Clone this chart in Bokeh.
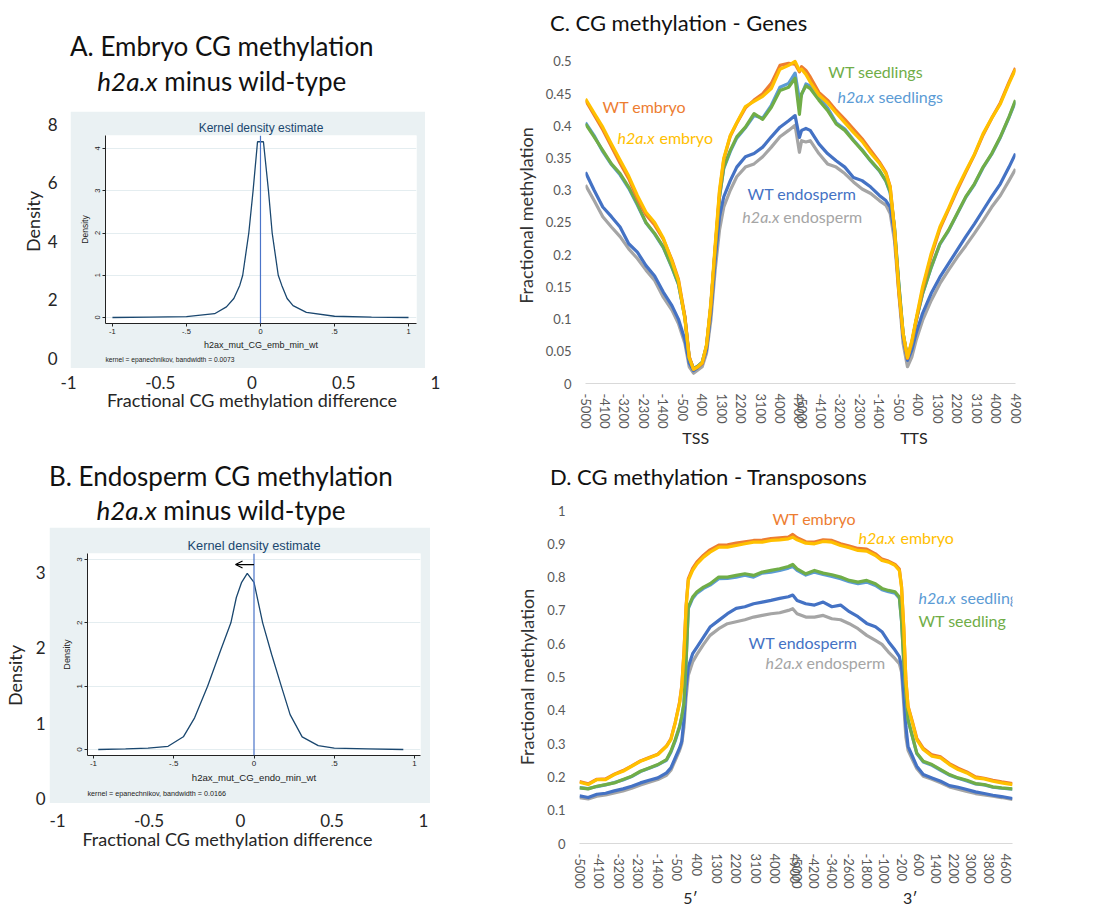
from bokeh.plotting import figure
from bokeh.layouts import row, column
from bokeh.models import Div, FixedTicker, Span, Arrow, OpenHead, Label, LinearAxis, Range1d, Title
from bokeh.embed import file_html
from bokeh.resources import INLINE

# ---------------- data: kernel density estimates (panels A, B) ----------------
KDE_EMB_X = [-1.0, -0.75, -0.5, -0.31, -0.23, -0.18, -0.14, -0.12, -0.079, -0.05, -0.02,
             0.02, 0.054, 0.079, 0.12, 0.144, 0.18, 0.22, 0.31, 0.50, 0.75, 1.0]
KDE_EMB_Y = [0.0, 0.01, 0.02, 0.09, 0.25, 0.45, 0.76, 1.00, 2.00, 3.00, 4.16,
             4.16, 3.00, 2.00, 1.00, 0.76, 0.45, 0.28, 0.12, 0.03, 0.01, 0.0]
KDE_END_X = [-0.97, -0.80, -0.66, -0.535, -0.44, -0.37, -0.289, -0.21, -0.144, -0.11, -0.077,
             -0.042, 0.0, 0.054, 0.11, 0.17, 0.225, 0.30, 0.40, 0.50, 0.71, 0.93]
KDE_END_Y = [0.0, 0.01, 0.02, 0.05, 0.20, 0.50, 1.00, 1.55, 2.00, 2.40, 2.64,
             2.78, 2.64, 2.00, 1.50, 1.00, 0.55, 0.20, 0.06, 0.02, 0.01, 0.0]
STATA_X_TICKS = [-1, -0.5, 0, 0.5, 1]
STATA_X_LABELS = ["-1", "-.5", "0", ".5", "1"]
OUTER_X_TICKS = [-1, -0.5, 0, 0.5, 1]
OUTER_X_LABELS = ["-1", "-0.5", "0", "0.5", "1"]
OUTER_A_Y_TICKS = [0, 2, 4, 6, 8]
OUTER_B_Y_TICKS = [0, 1, 2, 3]

# ---------------- data: CG methylation over genes (panel C) ----------------
GENE_POS = [0, 4, 8, 12, 16, 20, 24, 28, 32, 36,
            40, 43, 46, 48, 50, 52, 54, 56, 58, 60,
            62, 64, 67, 70, 74, 78, 82, 86, 90, 94,
            97, 99, 100, 102, 104, 108, 112, 116, 120, 124,
            128, 132, 136, 139, 141, 143, 145, 147, 149, 151,
            153, 156, 160, 164, 168, 172, 176, 180, 184, 188,
            192, 196, 199]
GENE_WT_EMBRYO = [0.440, 0.417, 0.394, 0.368, 0.342, 0.318, 0.287, 0.262, 0.246, 0.224,
                  0.192, 0.162, 0.104, 0.042, 0.022, 0.026, 0.031, 0.058, 0.120, 0.210,
                  0.296, 0.348, 0.384, 0.404, 0.428, 0.440, 0.450, 0.466, 0.494, 0.497,
                  0.496, 0.484, 0.492, 0.486, 0.476, 0.452, 0.440, 0.424, 0.410, 0.395,
                  0.380, 0.362, 0.344, 0.328, 0.306, 0.238, 0.142, 0.076, 0.039, 0.064,
                  0.097, 0.146, 0.198, 0.240, 0.270, 0.300, 0.328, 0.355, 0.386, 0.412,
                  0.436, 0.468, 0.490]
GENE_H2AX_EMBRYO = [0.442, 0.420, 0.398, 0.372, 0.347, 0.322, 0.292, 0.266, 0.250, 0.226,
                    0.190, 0.160, 0.100, 0.040, 0.022, 0.026, 0.032, 0.060, 0.125, 0.215,
                    0.300, 0.350, 0.385, 0.405, 0.430, 0.438, 0.446, 0.458, 0.488, 0.494,
                    0.500, 0.486, 0.488, 0.480, 0.468, 0.448, 0.436, 0.420, 0.405, 0.390,
                    0.376, 0.358, 0.342, 0.326, 0.305, 0.240, 0.145, 0.078, 0.040, 0.066,
                    0.100, 0.150, 0.202, 0.243, 0.272, 0.303, 0.330, 0.356, 0.388, 0.412,
                    0.434, 0.466, 0.488]
GENE_WT_SEEDLING = [0.403, 0.383, 0.362, 0.341, 0.326, 0.305, 0.279, 0.250, 0.233, 0.212,
                    0.181, 0.155, 0.103, 0.040, 0.023, 0.027, 0.033, 0.058, 0.120, 0.207,
                    0.290, 0.336, 0.362, 0.383, 0.398, 0.419, 0.410, 0.429, 0.455, 0.460,
                    0.474, 0.418, 0.450, 0.462, 0.458, 0.440, 0.424, 0.403, 0.393, 0.377,
                    0.362, 0.346, 0.331, 0.315, 0.298, 0.243, 0.155, 0.078, 0.041, 0.062,
                    0.098, 0.140, 0.181, 0.217, 0.238, 0.264, 0.290, 0.310, 0.336, 0.357,
                    0.383, 0.414, 0.440]
GENE_H2AX_SEEDLING = [0.405, 0.385, 0.360, 0.340, 0.324, 0.303, 0.277, 0.249, 0.232, 0.211,
                      0.180, 0.154, 0.102, 0.040, 0.023, 0.027, 0.033, 0.058, 0.121, 0.208,
                      0.289, 0.334, 0.360, 0.381, 0.397, 0.416, 0.412, 0.432, 0.460, 0.466,
                      0.482, 0.440, 0.448, 0.465, 0.462, 0.444, 0.428, 0.405, 0.395, 0.378,
                      0.363, 0.345, 0.330, 0.314, 0.296, 0.241, 0.153, 0.077, 0.040, 0.061,
                      0.097, 0.139, 0.180, 0.216, 0.237, 0.263, 0.289, 0.309, 0.335, 0.356,
                      0.382, 0.413, 0.438]
GENE_WT_ENDO = [0.328, 0.300, 0.274, 0.259, 0.243, 0.217, 0.204, 0.183, 0.167, 0.142,
                0.121, 0.100, 0.068, 0.032, 0.020, 0.025, 0.031, 0.052, 0.109, 0.191,
                0.259, 0.290, 0.315, 0.336, 0.352, 0.357, 0.367, 0.383, 0.398, 0.408,
                0.416, 0.382, 0.393, 0.396, 0.393, 0.372, 0.357, 0.346, 0.336, 0.320,
                0.315, 0.305, 0.292, 0.284, 0.274, 0.233, 0.150, 0.072, 0.036, 0.052,
                0.078, 0.109, 0.140, 0.165, 0.186, 0.207, 0.228, 0.248, 0.269, 0.290,
                0.310, 0.336, 0.357]
GENE_H2AX_ENDO = [0.308, 0.284, 0.259, 0.243, 0.228, 0.209, 0.194, 0.176, 0.160, 0.134,
                  0.114, 0.093, 0.062, 0.026, 0.016, 0.021, 0.026, 0.047, 0.098, 0.176,
                  0.238, 0.274, 0.300, 0.321, 0.336, 0.341, 0.352, 0.367, 0.383, 0.393,
                  0.401, 0.359, 0.377, 0.375, 0.377, 0.357, 0.341, 0.336, 0.326, 0.313,
                  0.302, 0.295, 0.284, 0.277, 0.264, 0.222, 0.140, 0.062, 0.026, 0.041,
                  0.067, 0.098, 0.129, 0.155, 0.176, 0.196, 0.214, 0.233, 0.253, 0.274,
                  0.292, 0.315, 0.333]
GENE_TICK_POS = [0, 9, 18, 27, 36, 45, 54, 63, 72, 81, 90, 99,
                 100, 109, 118, 127, 136, 145, 154, 163, 172, 181, 190, 199]
GENE_TICK_LABELS = ["-5000", "-4100", "-3200", "-2300", "-1400", "-500", "400", "1300", "2200", "3100", "4000", "4900",
                    "-5000", "-4100", "-3200", "-2300", "-1400", "-500", "400", "1300", "2200", "3100", "4000", "4900"]
GENE_Y_TICKS = [0, 0.05, 0.1, 0.15, 0.2, 0.25, 0.3, 0.35, 0.4, 0.45, 0.5]
GENE_Y_LABELS = ["0", "0.05", "0.1", "0.15", "0.2", "0.25", "0.3", "0.35", "0.4", "0.45", "0.5"]
GENE_MARK_POS = [51, 152]
GENE_MARK_LABELS = ["TSS", "TTS"]

# ---------------- data: CG methylation over transposons (panel D) ----------------
TE_POS = [0, 4, 8, 12, 16, 20, 24, 28, 32, 36,
          40, 42, 44, 46, 47, 48, 49, 50, 52, 54,
          57, 60, 64, 68, 72, 76, 80, 84, 88, 92,
          96, 98, 100, 104, 108, 112, 116, 120, 124, 128,
          132, 136, 139, 142, 145, 147, 148, 149, 150, 151,
          153, 155, 158, 162, 166, 170, 174, 178, 182, 186,
          190, 194, 199]
TE_WT_EMBRYO = [0.186, 0.179, 0.193, 0.194, 0.208, 0.219, 0.233, 0.248, 0.258, 0.268,
                0.293, 0.314, 0.364, 0.425, 0.474, 0.575, 0.715, 0.795, 0.826, 0.846,
                0.866, 0.882, 0.896, 0.897, 0.902, 0.906, 0.910, 0.911, 0.916, 0.918,
                0.920, 0.928, 0.918, 0.906, 0.905, 0.912, 0.910, 0.900, 0.893, 0.886,
                0.884, 0.870, 0.854, 0.848, 0.838, 0.824, 0.772, 0.652, 0.492, 0.412,
                0.366, 0.316, 0.286, 0.266, 0.260, 0.240, 0.226, 0.215, 0.200, 0.196,
                0.190, 0.185, 0.180]
TE_H2AX_EMBRYO = [0.184, 0.177, 0.192, 0.192, 0.207, 0.217, 0.232, 0.247, 0.257, 0.267,
                  0.292, 0.312, 0.362, 0.422, 0.470, 0.570, 0.710, 0.790, 0.820, 0.840,
                  0.860, 0.875, 0.890, 0.890, 0.895, 0.900, 0.905, 0.905, 0.910, 0.912,
                  0.915, 0.920, 0.912, 0.902, 0.900, 0.907, 0.905, 0.895, 0.888, 0.880,
                  0.878, 0.865, 0.850, 0.845, 0.835, 0.820, 0.770, 0.650, 0.490, 0.410,
                  0.362, 0.312, 0.282, 0.262, 0.257, 0.237, 0.222, 0.212, 0.197, 0.194,
                  0.187, 0.182, 0.177]
TE_WT_SEEDLING = [0.167, 0.164, 0.172, 0.177, 0.182, 0.192, 0.202, 0.217, 0.227, 0.237,
                  0.252, 0.277, 0.312, 0.352, 0.382, 0.422, 0.550, 0.710, 0.740, 0.756,
                  0.770, 0.780, 0.800, 0.800, 0.805, 0.810, 0.805, 0.815, 0.820, 0.825,
                  0.832, 0.838, 0.825, 0.810, 0.820, 0.812, 0.807, 0.800, 0.790, 0.785,
                  0.790, 0.780, 0.766, 0.760, 0.756, 0.740, 0.670, 0.550, 0.450, 0.372,
                  0.322, 0.272, 0.247, 0.237, 0.222, 0.207, 0.197, 0.190, 0.180, 0.177,
                  0.170, 0.167, 0.164]
TE_H2AX_SEEDLING = [0.168, 0.165, 0.171, 0.176, 0.183, 0.191, 0.201, 0.216, 0.226, 0.236,
                    0.250, 0.274, 0.308, 0.348, 0.378, 0.418, 0.545, 0.705, 0.736, 0.752,
                    0.766, 0.776, 0.795, 0.796, 0.800, 0.806, 0.800, 0.812, 0.815, 0.820,
                    0.827, 0.832, 0.820, 0.806, 0.815, 0.808, 0.802, 0.795, 0.786, 0.780,
                    0.785, 0.775, 0.762, 0.756, 0.752, 0.737, 0.668, 0.548, 0.448, 0.370,
                    0.320, 0.270, 0.245, 0.235, 0.220, 0.205, 0.196, 0.188, 0.179, 0.176,
                    0.169, 0.166, 0.163]
TE_WT_ENDO = [0.143, 0.138, 0.148, 0.151, 0.158, 0.164, 0.172, 0.182, 0.190, 0.197,
              0.212, 0.227, 0.257, 0.287, 0.307, 0.372, 0.470, 0.530, 0.570, 0.590,
              0.620, 0.650, 0.670, 0.690, 0.706, 0.711, 0.720, 0.725, 0.730, 0.736,
              0.741, 0.746, 0.730, 0.720, 0.716, 0.725, 0.711, 0.716, 0.696, 0.681,
              0.661, 0.651, 0.636, 0.606, 0.581, 0.561, 0.531, 0.450, 0.352, 0.292,
              0.262, 0.232, 0.207, 0.197, 0.187, 0.174, 0.169, 0.162, 0.155, 0.150,
              0.145, 0.141, 0.135]
TE_H2AX_ENDO = [0.138, 0.134, 0.142, 0.146, 0.152, 0.158, 0.166, 0.176, 0.184, 0.192,
                0.205, 0.220, 0.250, 0.280, 0.300, 0.350, 0.440, 0.505, 0.545, 0.568,
                0.598, 0.625, 0.645, 0.660, 0.666, 0.672, 0.680, 0.685, 0.690, 0.693,
                0.700, 0.705, 0.690, 0.680, 0.680, 0.685, 0.675, 0.672, 0.660, 0.645,
                0.625, 0.610, 0.598, 0.575, 0.555, 0.540, 0.515, 0.420, 0.320, 0.280,
                0.252, 0.225, 0.202, 0.193, 0.182, 0.170, 0.163, 0.156, 0.150, 0.146,
                0.142, 0.138, 0.132]
TE_TICK_POS = [0, 9, 18, 27, 36, 45, 54, 63, 72, 81, 90, 99,
               100, 108, 116, 124, 132, 140, 148, 156, 164, 172, 180, 188, 196]
TE_TICK_LABELS = ["-5000", "-4100", "-3200", "-2300", "-1400", "-500", "400", "1300", "2200", "3100", "4000", "4900",
                  "-5000", "-4200", "-3400", "-2600", "-1800", "-1000", "-200", "600", "1400", "2200", "3000", "3800", "4600"]
TE_Y_TICKS = [0, 0.1, 0.2, 0.3, 0.4, 0.5, 0.6, 0.7, 0.8, 0.9, 1.0]
TE_Y_LABELS = ["0", "0.1", "0.2", "0.3", "0.4", "0.5", "0.6", "0.7", "0.8", "0.9", "1"]
TE_MARK_POS = [51, 152]
TE_MARK_LABELS = ["5\u2032", "3\u2032"]

for arr in (GENE_WT_EMBRYO, GENE_H2AX_EMBRYO, GENE_WT_SEEDLING, GENE_H2AX_SEEDLING, GENE_WT_ENDO, GENE_H2AX_ENDO):
    assert len(arr) == len(GENE_POS)
for arr in (TE_WT_EMBRYO, TE_H2AX_EMBRYO, TE_WT_SEEDLING, TE_H2AX_SEEDLING, TE_WT_ENDO, TE_H2AX_ENDO):
    assert len(arr) == len(TE_POS)

# ---------------- styles ----------------
FONT = "Lato"
SFONT = "Liberation Sans"
STATA_BG = "#EAF1F3"
STATA_NAVY = "#1a476f"
C_WT_EMB = "#ED7D31"
C_MU_EMB = "#FFC000"
C_WT_SEED = "#70AD47"
C_MU_SEED = "#5B9BD5"
C_WT_ENDO = "#4472C4"
C_MU_ENDO = "#A5A5A5"
TXT = "#262626"


def base_fig(w, h, xr, yr, bl, br, bt, bb, **kw):
    p = figure(width=w, height=h, x_range=Range1d(*xr), y_range=Range1d(*yr),
               output_backend="svg", toolbar_location=None,
               min_border_left=bl, min_border_right=br, min_border_top=bt, min_border_bottom=bb, **kw)
    p.outline_line_color = None
    return p


def title_div(lines, w, h, fs, line_h, pad_top, align="center", pad_left=0):
    html = ('<div style="font-family:Lato, sans-serif; font-size:%dpx; line-height:%dpx; '
            'padding-top:%dpx; padding-left:%dpx; text-align:%s; white-space:nowrap; color:#111;">%s</div>'
            % (fs, line_h, pad_top, pad_left, align, "<br>".join(lines)))
    return Div(text=html, width=w, height=h, margin=0)


def outer_y(w, h, bl, bt, bb, ymax, ticks, standoff, lab_standoff):
    p = base_fig(w, h, (0, 1), (0, ymax), bl, 0, bt, bb, x_axis_location=None)
    p.grid.visible = False
    p.background_fill_alpha = 0
    p.border_fill_alpha = 0
    ya = p.yaxis[0]
    ya.ticker = FixedTicker(ticks=ticks)
    ya.axis_line_color = None
    ya.major_tick_line_color = None
    ya.minor_tick_line_color = None
    ya.major_tick_out = 0
    ya.major_label_standoff = standoff
    ya.major_label_text_font = FONT
    ya.major_label_text_font_size = "17px"
    ya.major_label_text_color = TXT
    ya.axis_label = "Density"
    ya.axis_label_standoff = lab_standoff
    ya.axis_label_text_font = FONT
    ya.axis_label_text_font_size = "18px"
    ya.axis_label_text_font_style = "normal"
    ya.axis_label_text_color = TXT
    return p


def outer_x(w, h, bl, fw, xr, standoff, lab_standoff):
    p = base_fig(w, h, xr, (0, 1), bl, w - bl - fw, 0, h - 2, y_axis_location=None)
    p.grid.visible = False
    xa = p.xaxis[0]
    xa.ticker = FixedTicker(ticks=OUTER_X_TICKS)
    xa.major_label_overrides = dict(zip(OUTER_X_TICKS, OUTER_X_LABELS))
    xa.axis_line_color = None
    xa.major_tick_line_color = None
    xa.minor_tick_line_color = None
    xa.major_tick_out = 0
    xa.major_label_standoff = standoff
    xa.major_label_text_font = FONT
    xa.major_label_text_font_size = "17px"
    xa.major_label_text_color = TXT
    xa.axis_label = "Fractional CG methylation difference"
    xa.axis_label_standoff = lab_standoff
    xa.axis_label_text_font = FONT
    xa.axis_label_text_font_size = "18px"
    xa.axis_label_text_font_style = "normal"
    xa.axis_label_text_color = TXT
    return p


def stata(xs, ys, w, h, bl, br, bt, bb, xr, yr, yticks, xlabel, note, k, arrow=False):
    p = base_fig(w, h, xr, yr, bl, br, bt, bb)
    p.border_fill_color = STATA_BG
    p.background_fill_color = "white"
    p.title.text = "Kernel density estimate"
    p.title.align = "center"
    p.title.text_font = SFONT
    p.title.text_font_size = "%.1fpx" % (12 * k)
    p.title.text_font_style = "normal"
    p.title.text_color = STATA_NAVY
    p.title.standoff = 1
    p.xgrid.visible = False
    p.ygrid.ticker = FixedTicker(ticks=yticks)
    p.ygrid.grid_line_color = "#E4EDF0"
    xa = p.xaxis[0]
    xa.ticker = FixedTicker(ticks=STATA_X_TICKS)
    xa.major_label_overrides = dict(zip(STATA_X_TICKS, STATA_X_LABELS))
    ya = p.yaxis[0]
    ya.ticker = FixedTicker(ticks=yticks)
    ya.major_label_orientation = "vertical"
    for ax in (xa, ya):
        ax.axis_line_color = "#222222"
        ax.major_tick_line_color = "#222222"
        ax.minor_tick_line_color = None
        ax.major_tick_out = 3
        ax.major_tick_in = 0
        ax.major_label_standoff = 2
        ax.major_label_text_font = SFONT
        ax.major_label_text_font_size = "%.1fpx" % (7.5 * k)
        ax.major_label_text_color = "#222222"
        ax.axis_label_text_font = SFONT
        ax.axis_label_text_font_style = "normal"
        ax.axis_label_text_color = "#222222"
        ax.axis_label_standoff = 3
    ya.axis_label = "Density"
    ya.axis_label_text_font_size = "%.1fpx" % (8.5 * k)
    xa.axis_label = xlabel
    xa.axis_label_text_font_size = "%.1fpx" % (9 * k)
    p.add_layout(Span(location=0, dimension="height", line_color="#4a74c9", line_width=1.2))
    p.line(xs, ys, line_color=STATA_NAVY, line_width=1.3)
    p.add_layout(Title(text=note, align="left", text_font=SFONT, text_font_size="%.1fpx" % (6.7 * k),
                       text_font_style="normal", text_color="#222222", standoff=2), "below")
    if arrow:
        p.add_layout(Arrow(x_start=0, y_start=2.92, x_end=-0.115, y_end=2.92,
                           line_color="black", line_width=1.2,
                           end=OpenHead(size=7, line_color="black", line_width=1.2)))
    return p


def excel(w, h, bl, br, bt, bb, yr, yticks, ylabels, xticks, xlabels, mpos, mlabels, x_standoff, m_standoff):
    p = base_fig(w, h, (0, 199), yr, bl, br, bt, bb)
    p.grid.visible = False
    xa = p.xaxis[0]
    xa.ticker = FixedTicker(ticks=xticks)
    xa.major_label_overrides = dict(zip(xticks, xlabels))
    xa.major_label_orientation = "vertical"
    xa.axis_line_color = "#D9D9D9"
    xa.axis_line_width = 1.2
    xa.major_tick_line_color = None
    xa.minor_tick_line_color = None
    xa.major_tick_out = 0
    xa.major_label_standoff = x_standoff
    xa.major_label_text_font = FONT
    xa.major_label_text_font_size = "13px"
    xa.major_label_text_color = "#595959"
    sec = LinearAxis(ticker=FixedTicker(ticks=mpos), major_label_overrides=dict(zip(mpos, mlabels)),
                     axis_line_color=None, major_tick_line_color=None, minor_tick_line_color=None,
                     major_tick_out=0, major_label_standoff=m_standoff, major_label_text_font=FONT,
                     major_label_text_font_size="16px", major_label_text_color=TXT)
    p.add_layout(sec, "below")
    ya = p.yaxis[0]
    ya.ticker = FixedTicker(ticks=yticks)
    ya.major_label_overrides = dict(zip(yticks, ylabels))
    ya.axis_line_color = None
    ya.major_tick_line_color = None
    ya.minor_tick_line_color = None
    ya.major_tick_out = 0
    ya.major_label_standoff = 14
    ya.major_label_text_font = FONT
    ya.major_label_text_font_size = "13px"
    ya.major_label_text_color = "#595959"
    ya.axis_label = "Fractional methylation"
    ya.axis_label_standoff = 6
    ya.axis_label_text_font = FONT
    ya.axis_label_text_font_size = "18px"
    ya.axis_label_text_font_style = "normal"
    ya.axis_label_text_color = "#333333"
    return p


def add_series(p, xs, series):
    for ys, col in series:
        p.line(xs, ys, line_color=col, line_width=3.2, line_join="round")


def add_label(p, x, y, col, main, italic=None, off=41):
    if italic:
        p.add_layout(Label(x=x, y=y, text=italic, text_color=col, text_font=FONT, text_font_size="16px",
                           text_font_style="italic", text_baseline="middle", text_align="left"))
        p.add_layout(Label(x=x, y=y, x_offset=off, text=main, text_color=col, text_font=FONT,
                           text_font_size="16px", text_baseline="middle", text_align="left"))
    else:
        p.add_layout(Label(x=x, y=y, text=main, text_color=col, text_font=FONT, text_font_size="16px",
                           text_baseline="middle", text_align="left"))


# ---------------- panel A ----------------
A_title = title_div(["A. Embryo CG methylation", "<i>h2a.x</i> minus wild-type"], 300, 111, 26, 35, 29)
A_stata = stata(KDE_EMB_X, KDE_EMB_Y, 355, 257, 35, 9, 24, 45, (-1.047, 1.054), (-0.142, 4.308),
                [0, 1, 2, 3, 4], "h2ax_mut_CG_emb_min_wt", "kernel = epanechnikov, bandwidth = 0.0073", 1.0)
A_left = outer_y(70, 368, 69, 84, 10, 9.367, OUTER_A_Y_TICKS, 12, 1)
A_bottom = outer_x(500, 77, 68, 367, (-1, 1), 5, -3)

# ---------------- panel B ----------------
B_title = title_div(["B. Endosperm CG methylation", "<i>h2a.x</i> minus wild-type"], 370, 82, 26, 34, 14)
B_stata = stata(KDE_END_X, KDE_END_Y, 381, 276, 38, 10, 26, 48, (-1.037, 1.037), (-0.095, 3.095),
                [0, 1, 2, 3], "h2ax_mut_CG_endo_min_wt", "kernel = epanechnikov, bandwidth = 0.0166", 1.07,
                arrow=True)
B_left = outer_y(49, 366, 48, 107, 13, 3.266, OUTER_B_Y_TICKS, 3, 7)
B_bottom = outer_x(500, 98, 31, 392, (-1.142, 1), 0, -2)

# ---------------- panel C ----------------
C_title = title_div(["C. CG methylation - Genes"], 605, 45, 22, 30, 8, align="left", pad_left=50)
C_fig = excel(605, 410, 85, 90, 2, 72, (0, 0.5217), GENE_Y_TICKS, GENE_Y_LABELS,
              GENE_TICK_POS, GENE_TICK_LABELS, GENE_MARK_POS, GENE_MARK_LABELS, 10, -4)
add_series(C_fig, GENE_POS, [(GENE_H2AX_ENDO, C_MU_ENDO), (GENE_WT_ENDO, C_WT_ENDO),
                             (GENE_H2AX_SEEDLING, C_MU_SEED), (GENE_WT_SEEDLING, C_WT_SEED),
                             (GENE_WT_EMBRYO, C_WT_EMB), (GENE_H2AX_EMBRYO, C_MU_EMB)])
add_label(C_fig, 7.9, 0.430, C_WT_EMB, "WT embryo")
add_label(C_fig, 14.8, 0.382, C_MU_EMB, "embryo", "h2a.x", 42)
add_label(C_fig, 112.4, 0.4845, C_WT_SEED, "WT seedlings")
add_label(C_fig, 116.6, 0.4457, C_MU_SEED, "seedlings", "h2a.x", 41)
add_label(C_fig, 75.0, 0.295, C_WT_ENDO, "WT endosperm")
add_label(C_fig, 72.6, 0.259, C_MU_ENDO, "endosperm", "h2a.x", 41)

# ---------------- panel D ----------------
D_title = title_div(["D. CG methylation - Transposons"], 605, 35, 22, 30, 7, align="left", pad_left=50)
D_fig = excel(605, 419, 79, 93, 20, 65, (0, 1.0), TE_Y_TICKS, TE_Y_LABELS,
              TE_TICK_POS, TE_TICK_LABELS, TE_MARK_POS, TE_MARK_LABELS, 10, -4)
add_series(D_fig, TE_POS, [(TE_H2AX_ENDO, C_MU_ENDO), (TE_WT_ENDO, C_WT_ENDO),
                           (TE_H2AX_SEEDLING, C_MU_SEED), (TE_WT_SEEDLING, C_WT_SEED),
                           (TE_WT_EMBRYO, C_WT_EMB), (TE_H2AX_EMBRYO, C_MU_EMB)])
add_label(D_fig, 88.7, 0.976, C_WT_EMB, "WT embryo")
add_label(D_fig, 128.2, 0.919, C_MU_EMB, "embryo", "h2a.x", 42)
add_label(D_fig, 155.8, 0.740, C_MU_SEED, "seedling", "h2a.x", 42)
add_label(D_fig, 155.8, 0.671, C_WT_SEED, "WT seedling")
add_label(D_fig, 77.7, 0.605, C_WT_ENDO, "WT endosperm")
add_label(D_fig, 85.5, 0.545, C_MU_ENDO, "endosperm", "h2a.x", 41)

# ---------------- layout (each figure wrapped so sibling frames are not aligned) ----------------
left_col = column(
    row(A_left, column(A_title, A_stata)),
    row(A_bottom),
    row(B_left, column(B_title, B_stata)),
    row(B_bottom),
)
right_col = column(C_title, row(C_fig), D_title, row(D_fig))
page = row(left_col, right_col)

open("out.html", "w").write(file_html(page, INLINE))
